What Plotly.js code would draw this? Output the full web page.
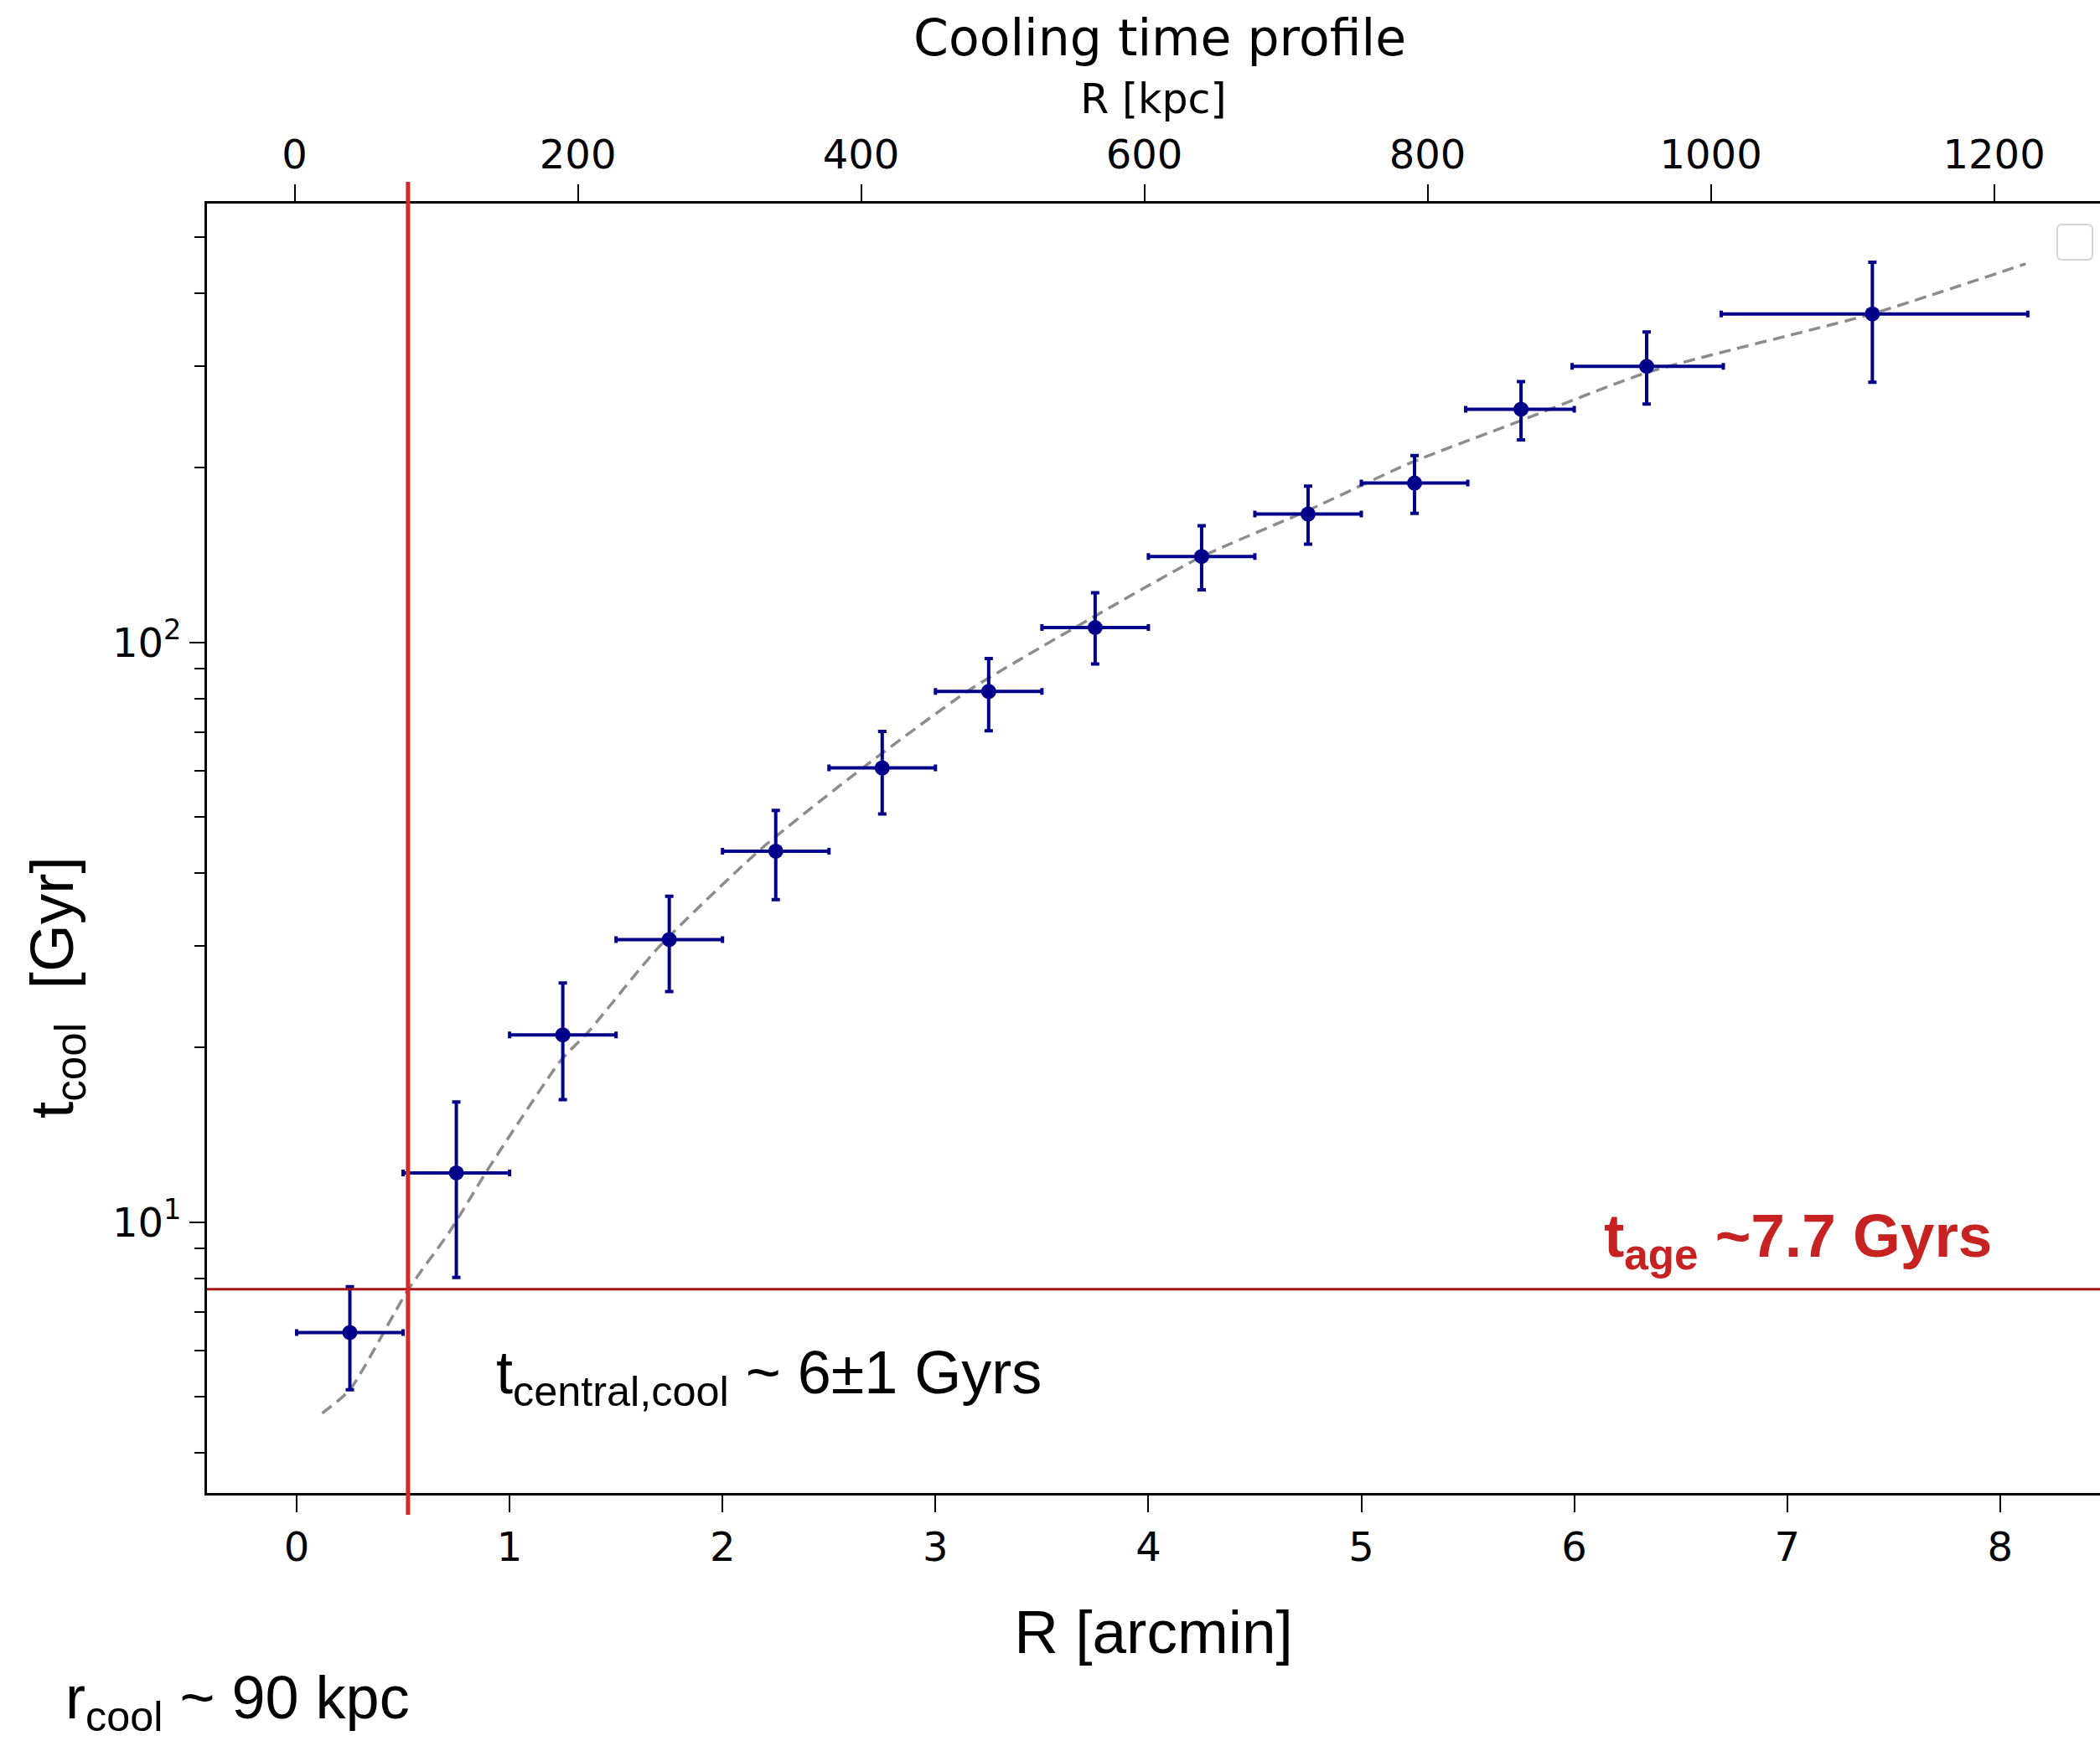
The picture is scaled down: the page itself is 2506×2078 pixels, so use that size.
<!DOCTYPE html>
<html><head><meta charset="utf-8">
<script src="https://cdn.plot.ly/plotly-3.0.1.min.js"></script>
<style>html,body{margin:0;padding:0;background:#fff;} #chart{width:2506px;height:2078px;}</style>
</head><body><div id="chart"></div>
<script>
// ---- data ----
const radiusArcmin = [0.25, 0.75, 1.25, 1.75, 2.25, 2.75, 3.25, 3.75, 4.25, 4.75, 5.25, 5.75, 6.34, 7.40];
const radiusErrMinus = [0.25, 0.25, 0.25, 0.25, 0.25, 0.25, 0.25, 0.25, 0.25, 0.25, 0.25, 0.26, 0.35, 0.71];
const radiusErrPlus  = [0.25, 0.25, 0.25, 0.25, 0.25, 0.25, 0.25, 0.25, 0.25, 0.25, 0.25, 0.25, 0.36, 0.73];
const tcoolGyr = [6.45, 12.16, 21.04, 30.72, 43.65, 60.75, 82.3, 106.1, 140.7, 166.5, 188.3, 252.5, 299.4, 368.7];
const tcoolErrPlus  = [1.29, 3.96, 4.81, 5.78, 7.65, 9.45, 11.5, 15.7, 18.2, 19.5, 21.8, 29.3, 43.7, 83.9];
const tcoolErrMinus = [1.31, 4.13, 4.77, 5.73, 7.65, 10.15, 11.9, 14.3, 17.5, 18.7, 21.3, 29.0, 41.6, 87.6];

const fitArcmin = [0.12, 0.25, 0.52, 0.72, 0.89, 1.06, 1.24, 1.37, 1.70, 2.18, 2.67, 3.16, 3.73, 4.24, 4.75, 5.23, 5.72, 6.34, 7.40, 8.12];
const fitGyr    = [4.68, 5.14, 7.61, 9.65, 12.2, 15.2, 19.0, 21.3, 29.8, 44.0, 61.2, 82.8, 110, 140, 169, 204, 239, 292, 369, 450];

const tAgeGyr = 7.66;          // horizontal reference line (t_age)
const rCoolArcmin = 0.523;     // vertical reference line (r_cool)

const xTickVals = [0, 1, 2, 3, 4, 5, 6, 7, 8];
const kpcTickVals = [0, 200, 400, 600, 800, 1000, 1200];
const yMajorVals = [10, 100];
const yMajorText = ['10<sup>1</sup>', '10<sup>2</sup>'];
const yMinorVals = [4, 5, 6, 7, 8, 9, 20, 30, 40, 50, 60, 70, 80, 90, 200, 300, 400, 500];

const xRange = [-0.421, 8.469];
const kpcRange = [-61.9, 1274.8];
const yRange = [Math.log10(3.41), 2.757];

const tickFont = {family: 'DejaVu Sans', size: 48, color: '#000'};
const sansFont = 'Liberation Sans, Arial, sans-serif';
const navy = '#00008B';

const traces = [
  {
    // t_age reference line, drawn across the full kpc axis (also makes the top axis appear)
    x: kpcRange, y: [tAgeGyr, tAgeGyr], xaxis: 'x2', yaxis: 'y', type: 'scatter', mode: 'lines',
    line: {color: '#A51515', width: 3}, hoverinfo: 'skip', showlegend: false
  },
  {
    x: fitArcmin, y: fitGyr, type: 'scatter', mode: 'lines',
    line: {color: '#8c8c8c', width: 3.5, dash: '14px,8px', shape: 'spline', smoothing: 0.6},
    hoverinfo: 'skip', showlegend: false
  },
  {
    x: radiusArcmin, y: tcoolGyr, type: 'scatter', mode: 'markers',
    marker: {color: navy, size: 18},
    error_x: {type: 'data', symmetric: false, array: radiusErrPlus, arrayminus: radiusErrMinus,
              color: navy, thickness: 4, width: 4},
    error_y: {type: 'data', symmetric: false, array: tcoolErrPlus, arrayminus: tcoolErrMinus,
              color: navy, thickness: 4, width: 5},
    showlegend: false
  }
];

const layout = {
  width: 2506, height: 2078,
  margin: {l: 247, r: 0, t: 243, b: 296, pad: 0},
  paper_bgcolor: '#fff', plot_bgcolor: '#fff',
  showlegend: false,
  title: {text: 'Cooling time profile', font: {family: 'DejaVu Sans', size: 60, color: '#000'},
          x: 0.5523, xref: 'container', y: 1 - 45/2078, yref: 'container', xanchor: 'center', yanchor: 'middle'},
  xaxis: {
    range: xRange, tickvals: xTickVals, ticks: 'outside', ticklen: 20, tickwidth: 2, tickcolor: '#000',
    showline: true, linewidth: 3, linecolor: '#000', showgrid: false, zeroline: false,
    tickfont: tickFont,
    title: {text: 'R [arcmin]', font: {family: sansFont, size: 73, color: '#000'}, standoff: 50}
  },
  xaxis2: {
    overlaying: 'x', side: 'top', anchor: 'y', range: kpcRange, tickvals: kpcTickVals,
    ticks: 'outside', ticklen: 20, tickwidth: 2, tickcolor: '#000',
    showline: true, linewidth: 3, linecolor: '#000', showgrid: false, zeroline: false,
    tickfont: tickFont,
    title: {text: 'R [kpc]', font: {family: 'DejaVu Sans', size: 49, color: '#000'}, standoff: 5}
  },
  yaxis: {
    type: 'log', range: yRange, tickvals: yMajorVals, ticktext: yMajorText,
    ticks: 'outside', ticklen: 18, tickwidth: 2, tickcolor: '#000',
    minor: {tickvals: yMinorVals, ticks: 'outside', ticklen: 12, tickwidth: 2, tickcolor: '#000', showgrid: false},
    showline: true, linewidth: 3, linecolor: '#000', showgrid: false, zeroline: false,
    tickfont: tickFont
  },
  shapes: [
    {type: 'line', xref: 'x', x0: rCoolArcmin, x1: rCoolArcmin, yref: 'paper', y0: -0.0169, y1: 1.0169,
     line: {color: '#D42B2B', width: 5}},
    {type: 'path', xref: 'paper', yref: 'paper',
     path: 'M 0.9800 0.9838 L 0.9934 0.9838 Q 0.9960 0.9838 0.9960 0.9799 L 0.9960 0.9604 Q 0.9960 0.9565 0.9934 0.9565 L 0.9800 0.9565 Q 0.9774 0.9565 0.9774 0.9604 L 0.9774 0.9799 Q 0.9774 0.9838 0.9800 0.9838 Z',
     line: {color: '#d4d4d4', width: 2}, fillcolor: 'rgba(255,255,255,0.8)'}
  ],
  annotations: [
    {text: 't<sub>cool</sub> &nbsp;[Gyr]', textangle: -90, xref: 'paper', yref: 'paper',
     x: -0.080, y: 0.392, xanchor: 'center', yanchor: 'middle', showarrow: false,
     font: {family: sansFont, size: 73, color: '#000'}},
    {text: '<b>t<sub>age</sub> ~7.7 Gyrs</b>', xref: 'paper', yref: 'paper',
     x: 0.737, y: 0.196, xanchor: 'left', yanchor: 'middle', showarrow: false,
     font: {family: sansFont, size: 73, color: '#C62221'}},
    {text: 't<sub>central,cool</sub> ~ 6±1 Gyrs', xref: 'paper', yref: 'paper',
     x: 0.152, y: 0.0897, xanchor: 'left', yanchor: 'middle', showarrow: false,
     font: {family: sansFont, size: 72, color: '#000'}},
    {text: 'r<sub>cool</sub> ~ 90 kpc', xref: 'paper', yref: 'paper',
     x: -0.0755, y: -0.162, xanchor: 'left', yanchor: 'middle', showarrow: false,
     font: {family: sansFont, size: 72, color: '#000'}}
  ]
};

Plotly.newPlot('chart', traces, layout, {staticPlot: true, displayModeBar: false});
</script></body></html>
